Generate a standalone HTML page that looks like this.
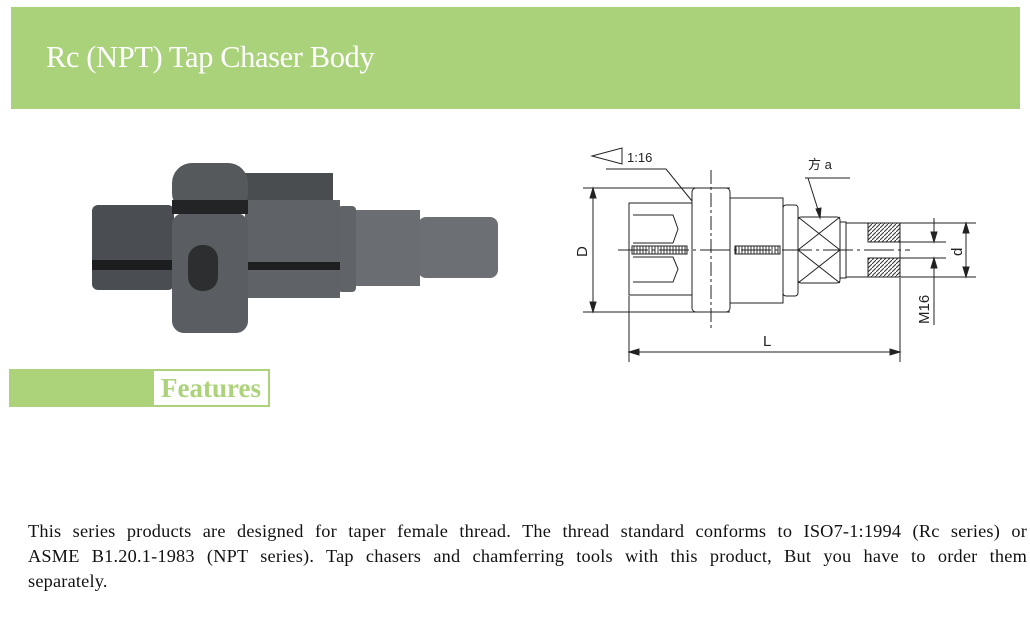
<!DOCTYPE html>
<html><head><meta charset="utf-8"><style>
body{margin:0;width:1030px;height:634px;background:#fff;position:relative;overflow:hidden;font-family:"Liberation Serif",serif}
.hdr{position:absolute;left:11px;top:7px;width:1009px;height:102px;background:#a9d27a}
.hdr span{position:absolute;left:35px;top:33px;color:#fff;font-size:30.5px;letter-spacing:-0.4px}
.fb{position:absolute;left:9px;top:369px;width:143px;height:38px;background:#acd27a}
.fx{position:absolute;left:152px;top:369px;width:114px;height:34px;border:2px solid #acd27a;color:#acd27a;font-weight:bold;font-size:27px;line-height:34px;text-align:center}
.p{position:absolute;left:28px;top:519px;width:999px;font-size:18.3px;letter-spacing:0.2px;line-height:25px;color:#111}
.j{text-align:justify;text-align-last:justify;white-space:nowrap;overflow:hidden}
</style></head><body>
<div class="hdr"><span>Rc (NPT) Tap Chaser Body</span></div>
<svg style="position:absolute;left:0;top:0" width="1030" height="634">
<rect x="418" y="217" width="80" height="61" rx="8" fill="#6c7074"/>
<rect x="354" y="210" width="66" height="76" fill="#6a6e72"/>
<rect x="338" y="206" width="18" height="86" rx="4" fill="#606468"/>
<rect x="245" y="173" width="88" height="30" fill="#4a4d50"/>
<rect x="245" y="200" width="95" height="98" fill="#5f6367"/>
<rect x="245" y="262" width="95" height="8" fill="#1e1f20"/>
<rect x="92" y="205" width="82" height="85" rx="6" fill="#4a4d51"/>
<rect x="92" y="260" width="82" height="10" fill="#1c1d1e"/>
<rect x="172" y="163" width="76" height="50" rx="20" fill="#55595c"/>
<rect x="172" y="213" width="76" height="120" rx="12" fill="#5a5e62"/>
<rect x="172" y="200" width="76" height="14" fill="#232425"/>
<rect x="188" y="245" width="30" height="46" rx="14" fill="#2c2e30"/>
<g stroke="#222" fill="none" stroke-width="1">
<line x1="583" y1="188" x2="730" y2="188"/><line x1="583" y1="312" x2="730" y2="312"/>
<line x1="593" y1="190" x2="593" y2="310"/>
<path d="M593 188l-3 10h6z M593 312l-3-10h6z" fill="#222"/>
<rect x="629" y="203" width="63" height="92"/>
<rect x="692" y="188" width="38" height="124" rx="4"/>
<rect x="730" y="198" width="53" height="105"/>
<rect x="783" y="205" width="15" height="91" rx="3"/>
<rect x="798" y="217" width="42" height="66" rx="3"/>
<path d="M798 217L840 250M840 217L798 250M798 250L840 283M840 250L798 283"/>
<rect x="840" y="222" width="6" height="56"/>
<rect x="846" y="223" width="54" height="54"/>
<rect x="868" y="223" width="32" height="19" fill="url(#h)"/>
<rect x="868" y="258" width="32" height="19" fill="url(#h)"/>
<path d="M633 215h40l5 14-5 14h-40M633 257h40l5 12-5 13h-40"/>
<rect x="632" y="246" width="55" height="8" fill="url(#v)"/>
<rect x="735" y="246" width="45" height="8" fill="url(#v)"/>
<line x1="618" y1="250" x2="910" y2="250" stroke-dasharray="30 4 3 4"/>
<line x1="711" y1="170" x2="711" y2="330" stroke-dasharray="14 3 3 3"/>
<line x1="900" y1="223" x2="976" y2="223"/><line x1="900" y1="277" x2="976" y2="277"/>
<line x1="900" y1="242" x2="946" y2="242"/><line x1="900" y1="258" x2="946" y2="258"/>
<line x1="934" y1="218" x2="934" y2="242"/><line x1="934" y1="258" x2="934" y2="325"/>
<line x1="966" y1="224" x2="966" y2="276"/>
<path d="M934 242l-3-10h6zM934 258l-3 10h6zM966 223l-3 10h6zM966 277l-3-10h6z" fill="#222"/>
<line x1="629" y1="296" x2="629" y2="362"/><line x1="900" y1="278" x2="900" y2="362"/>
<line x1="631" y1="352" x2="898" y2="352"/>
<path d="M629 352l10-3v6zM900 352l-10-3v6z" fill="#222"/>
<path d="M592 156l30-8v16z"/>
<path d="M606 169h60l26 32"/>
<path d="M805 178h45M808 178l12 38"/>
<path d="M820 218l-4-9 5-1z" fill="#222"/>
</g>
<defs>
<pattern id="h" width="4" height="4" patternUnits="userSpaceOnUse"><path d="M0 4L4 0" stroke="#333"/></pattern>
<pattern id="v" width="3" height="8" patternUnits="userSpaceOnUse"><path d="M1 0v8" stroke="#333"/></pattern>
</defs>
<text x="627" y="162" font-family="Liberation Sans,sans-serif" font-size="13" fill="#222">1:16</text>
<text x="808" y="169" font-family="Liberation Sans,'Noto Sans CJK SC',sans-serif" font-size="13" fill="#222">方 a</text>
<text x="763" y="346" font-family="Liberation Sans,sans-serif" font-size="15" fill="#222">L</text>
<text transform="translate(587,257) rotate(-90)" font-family="Liberation Sans,sans-serif" font-size="15" fill="#222">D</text>
<text transform="translate(962,256) rotate(-90)" font-family="Liberation Sans,sans-serif" font-size="15" fill="#222">d</text>
<text transform="translate(929,324) rotate(-90)" font-family="Liberation Sans,sans-serif" font-size="15" fill="#222">M16</text>
</svg>
<div class="fb"></div><div class="fx">Features</div>
<div class="p"><div class="j">This series products are designed for taper female thread. The thread standard conforms to ISO7-1:1994 (Rc series) or</div><div class="j">ASME B1.20.1-1983 (NPT series). Tap chasers and chamferring tools with this product, But you have to order them</div><div>separately.</div></div>
</body></html>
